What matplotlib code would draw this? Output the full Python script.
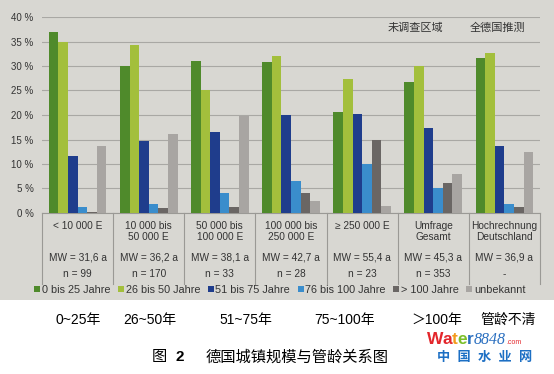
import numpy as np
import matplotlib
matplotlib.use("Agg")
from matplotlib import pyplot as plt
from matplotlib.patches import Rectangle, Patch
from matplotlib.transforms import blended_transform_factory

# data (percent of pipe network)
groups = ["< 10 000 E", "10 000 bis\n50 000 E", "50 000 bis\n100 000 E",
          "100 000 bis\n250 000 E", "≥ 250 000 E", "Umfrage\nGesamt",
          "Hochrechnung\nDeutschland"]
mw = ["MW = 31,6 a", "MW = 36,2 a", "MW = 38,1 a", "MW = 42,7 a",
      "MW = 55,4 a", "MW = 45,3 a", "MW = 36,9 a"]
n_vals = ["n = 99", "n = 170", "n = 33", "n = 28", "n = 23", "n = 353", "-"]
series = ["0 bis 25 Jahre", "26 bis 50 Jahre", "51 bis 75 Jahre",
          "76 bis 100 Jahre", "> 100 Jahre", "unbekannt"]
age_0_25 = [37.0, 29.9, 31.1, 30.8, 20.7, 26.7, 31.7]
age_26_50 = [34.9, 34.2, 25.0, 32.1, 27.4, 29.9, 32.6]
age_51_75 = [11.7, 14.7, 16.6, 20.0, 20.3, 17.3, 13.6]
age_76_100 = [1.2, 1.9, 4.0, 6.6, 9.9, 5.1, 1.8]
age_100 = [0.3, 1.0, 1.2, 4.0, 15.0, 6.1, 1.2]
unknown = [13.6, 16.1, 19.7, 2.5, 1.4, 7.9, 12.5]
cn_labels = ["0~25年", "26~50年", "51~75年", "75~100年", "＞100年", "管龄不清"]

colors = ["#4f8a2b", "#a3bf3c", "#1f3d8c", "#3a8dcc", "#6a6664", "#a8a5a2"]
bg = "#d8d7d2"
W, H = 554, 374


def fx(px):
    return px / W


def fy(py):
    return 1 - py / H


plt.rcParams['font.family'] = ['Liberation Sans', 'Noto Sans CJK SC']
fig = plt.figure(figsize=(5.54, 3.74), dpi=100, facecolor="white")
fig.patches.append(Rectangle((0, fy(300)), 1, 1 - fy(300), transform=fig.transFigure,
                             facecolor=bg, edgecolor="none", zorder=-10))

ax = fig.add_axes([fx(42), fy(213), fx(540) - fx(42), fy(17) - fy(213)])
ax.set_facecolor("none")
x = np.arange(len(groups))
w = 0.135
data = [age_0_25, age_26_50, age_51_75, age_76_100, age_100, unknown]
for i, vals in enumerate(data):
    ax.bar(x + (i - 2.5) * w, vals, w, color=colors[i], label=series[i], zorder=3)

ax.set_xlim(-0.5, len(groups) - 0.5)
ax.set_ylim(0, 40)
ax.set_yticks(range(0, 41, 5))
ax.set_yticklabels([f"{t} %" for t in range(0, 41, 5)], fontsize=7, color="#333333")
ax.set_xticks([])
ax.grid(axis="y", color="#a9a8a4", linewidth=0.8, zorder=0)
for s in ax.spines.values():
    s.set_visible(False)
ax.tick_params(axis="y", length=0, pad=6)

# table below the bars
tr = blended_transform_factory(ax.transData, fig.transFigure)
for b in np.arange(-0.5, len(groups), 1.0):
    ax.plot([b, b], [fy(213), fy(284)], transform=tr, color="#9a9995",
            linewidth=0.8, clip_on=False)
ax.plot([-0.5, len(groups) - 0.5], [fy(213), fy(213)], transform=tr,
        color="#9a9995", linewidth=0.8, clip_on=False)
for i in range(len(groups)):
    ax.text(i, fy(221), groups[i], transform=tr, ha="center", va="top",
            fontsize=7.3, color="#333333", linespacing=1.1)
    ax.text(i, fy(257), mw[i], transform=tr, ha="center", va="center",
            fontsize=7.3, color="#333333")
    ax.text(i, fy(274), n_vals[i], transform=tr, ha="center", va="center",
            fontsize=7.3, color="#333333")

ax.text(fx(415), fy(28), "未调查区域", transform=fig.transFigure, ha="center",
        va="center", fontsize=8, color="#333333")
ax.text(fx(497), fy(28), "全德国推测", transform=fig.transFigure, ha="center",
        va="center", fontsize=8, color="#333333")

handles = [Patch(facecolor=c) for c in colors]
fig.legend(handles, series, loc="center", bbox_to_anchor=(fx(280), fy(290)),
           ncol=6, frameon=False, fontsize=7.8, handlelength=0.55,
           handleheight=0.55, handletextpad=0.15, columnspacing=0.7,
           labelcolor="#333333")

cn_x = [78, 150, 246, 345, 437, 508]
for px, lab in zip(cn_x, cn_labels):
    fig.text(fx(px), fy(320), lab, ha="center", va="center", fontsize=10,
             color="black")

# site logo, letters placed one after another using measured widths
renderer = fig.canvas.get_renderer()
logo = [("W", "#e3262b"), ("a", "#e3262b"), ("t", "#f39a1c"),
        ("e", "#7cbf2a"), ("r", "#2a6fc0")]
lx = 427
for ch, c in logo:
    t = fig.text(fx(lx), fy(344), ch, fontsize=12.5, fontweight="bold", color=c,
                 ha="left", va="baseline", family="Liberation Sans")
    lx = t.get_window_extent(renderer).x1 - 0.5
t = fig.text(fx(lx + 1), fy(344), "8848", fontsize=11.5, style="italic",
             color="#2a6fc0", family="Liberation Serif", ha="left", va="baseline")
lx = t.get_window_extent(renderer).x1
fig.text(fx(lx + 1), fy(344), ".com", fontsize=5, color="#e3262b",
         ha="left", va="baseline")
fig.text(fx(485), fy(358), "中  国  水  业  网", fontsize=9.5, fontweight="bold",
         color="#1c6fc4", ha="center", va="center")

fig.text(fx(159), fy(357), "图", fontsize=11, ha="center", va="center")
fig.text(fx(180), fy(357), "2", fontsize=11, fontweight="bold", ha="center", va="center")
fig.text(fx(297), fy(357), "德国城镇规模与管龄关系图", fontsize=11, ha="center",
         va="center")

fig.savefig("out.png", dpi=100, facecolor="white")
